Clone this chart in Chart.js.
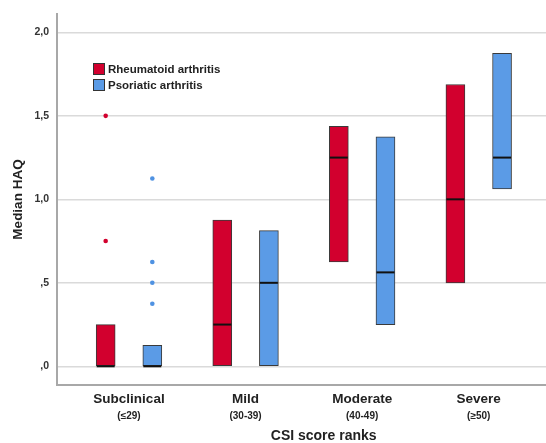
<!DOCTYPE html>
<html>
<head>
<meta charset="utf-8">
<script src="https://cdn.jsdelivr.net/npm/chart.js@4.4.1/dist/chart.umd.min.js"></script>
<style>
  html, body { margin: 0; background: #fff; overflow: hidden; }
  #wrap { position: relative; width: 546px; height: 443px; }
  .legend { position: absolute; left: 93px; top: 62px; font: bold 11.5px "Liberation Sans", Arial, sans-serif; color: #222; }
  .legend div { height: 16px; line-height: 14px; white-space: nowrap; }
  .legend span { display: inline-block; width: 10px; height: 10px; border: 1px solid #333; vertical-align: -2px; margin-right: 3px; }
</style>
</head>
<body>
<div id="wrap">
  <canvas id="haqChart" width="546" height="443"></canvas>
  <div class="legend" id="legend"></div>
</div>
<script>
// categorias y valores (HAQ)
const categorias = ["Subclinical", "Mild", "Moderate", "Severe"];
const rangos = ["(\u226429)", "(30-39)", "(40-49)", "(\u226550)"];
const yTicks = [0, 0.5, 1, 1.5, 2];
const yTickLabels = [",0", ",5", "1,0", "1,5", "2,0"];

const raBajo = [0, 0, 0.625, 0.5];
const raAlto = [0.25, 0.875, 1.4375, 1.6875];
const raMediana = [0, 0.25, 1.25, 1.0];
const raAtipCat = [0, 0];
const raAtipVal = [1.5, 0.75];

const psaBajo = [0, 0, 0.25, 1.0625];
const psaAlto = [0.125, 0.8125, 1.375, 1.875];
const psaMediana = [0, 0.5, 0.5625, 1.25];
const psaAtipCat = [0, 0, 0, 0];
const psaAtipVal = [1.125, 0.625, 0.5, 0.375];

const series = ["Rheumatoid arthritis", "Psoriatic arthritis"];
const colores = ["#d2002e", "#5b9be6"];
const desplazamiento = 0.2;
const tituloX = "CSI score ranks";
const tituloXPos = 1.67;

function barras(bajo, alto, dx) {
  let out = [];
  for (let i = 0; i < categorias.length; i++) {
    out.push({ x: i + dx, y: [bajo[i], alto[i]] });
  }
  return out;
}

function puntos(cat, val, dx) {
  let out = [];
  for (let i = 0; i < cat.length; i++) {
    out.push({ x: cat[i] + dx, y: val[i] });
  }
  return out;
}

const fuente = '"Liberation Sans", Arial, sans-serif';
const fijarTicks = (scale, vals) => { scale.ticks = vals.map(v => ({ value: v })); };
const sinRelleno = (s) => { s.paddingLeft = 0; s.paddingRight = 0; s.paddingTop = 0; s.paddingBottom = 0; };

const ejeX = (id, ticks, alto, extra) => Object.assign({
  type: "linear",
  position: "bottom",
  offset: false,
  min: -0.6176,
  max: 3.577,
  afterBuildTicks: (s) => fijarTicks(s, ticks),
  afterFit: (s) => { sinRelleno(s); s.height = alto; },
  grid: { display: false, drawTicks: false },
  border: { display: false },
}, extra);

const ctx = document.getElementById("haqChart");
const chart = new Chart(ctx, {
  type: "bar",
  data: {
    datasets: [
      {
        label: series[0],
        data: barras(raBajo, raAlto, -desplazamiento),
        backgroundColor: colores[0],
        borderColor: "#3a3a3a",
        borderWidth: 1,
        borderSkipped: false,
        barThickness: 19,
        grouped: false,
        order: 2,
      },
      {
        label: series[1],
        data: barras(psaBajo, psaAlto, desplazamiento),
        backgroundColor: colores[1],
        borderColor: "#3a3a3a",
        borderWidth: 1,
        borderSkipped: false,
        barThickness: 19,
        grouped: false,
        order: 2,
      },
      {
        type: "scatter",
        label: "med RA",
        data: puntos([0, 1, 2, 3], raMediana, -desplazamiento),
        pointStyle: "line",
        pointRadius: 9,
        pointBorderWidth: 2,
        pointBorderColor: "#111",
        order: 1,
      },
      {
        type: "scatter",
        label: "med PsA",
        data: puntos([0, 1, 2, 3], psaMediana, desplazamiento),
        pointStyle: "line",
        pointRadius: 9,
        pointBorderWidth: 2,
        pointBorderColor: "#111",
        order: 1,
      },
      {
        type: "scatter",
        label: "out RA",
        data: puntos(raAtipCat, raAtipVal, -desplazamiento),
        pointRadius: 2.3,
        pointBackgroundColor: colores[0],
        pointBorderWidth: 0,
        order: 1,
      },
      {
        type: "scatter",
        label: "out PsA",
        data: puntos(psaAtipCat, psaAtipVal, desplazamiento),
        pointRadius: 2.3,
        pointBackgroundColor: "#4f92e2",
        pointBorderWidth: 0,
        order: 1,
      },
    ],
  },
  options: {
    responsive: false,
    animation: false,
    layout: { autoPadding: false, padding: { top: 14, right: 0, left: 0, bottom: 0 } },
    plugins: {
      legend: { display: false },
      tooltip: { enabled: false },
    },
    scales: {
      y: {
        min: -0.112,
        max: 2.11,
        afterBuildTicks: (s) => fijarTicks(s, yTicks),
        afterFit: (s) => { sinRelleno(s); s.width = 57; },
        ticks: {
          padding: 8,
          color: "#333",
          font: { family: fuente, size: 10.5, weight: "bold" },
          callback: (v, i) => yTickLabels[i],
        },
        grid: { color: "#dadada", lineWidth: 1.5, drawTicks: false },
        border: { color: "#a8a8a8", width: 2 },
        title: {
          display: true,
          text: "Median HAQ",
          color: "#222",
          font: { family: fuente, size: 13.5, weight: "bold" },
          padding: { top: 10, bottom: 0 },
        },
      },
      x: ejeX("x", [0, 1, 2, 3], 22, {
        ticks: {
          padding: 6,
          color: "#222",
          font: { family: fuente, size: 13.5, weight: "bold" },
          callback: (v, i) => categorias[i],
        },
        border: { color: "#a8a8a8", width: 2 },
      }),
      x2: ejeX("x2", [0, 1, 2, 3], 14, {
        ticks: {
          padding: 3,
          color: "#222",
          font: { family: fuente, size: 10, weight: "bold" },
          callback: (v, i) => rangos[i],
        },
      }),
      x3: ejeX("x3", [tituloXPos], 22, {
        ticks: {
          padding: 7,
          color: "#222",
          font: { family: fuente, size: 14, weight: "bold" },
          callback: () => tituloX,
        },
      }),
    },
  },
});

// leyenda
const leyenda = document.getElementById("legend");
for (let i = 0; i < series.length; i++) {
  const fila = document.createElement("div");
  const cuadro = document.createElement("span");
  cuadro.style.background = colores[i];
  fila.appendChild(cuadro);
  fila.appendChild(document.createTextNode(series[i]));
  leyenda.appendChild(fila);
}
</script>
</body>
</html>
